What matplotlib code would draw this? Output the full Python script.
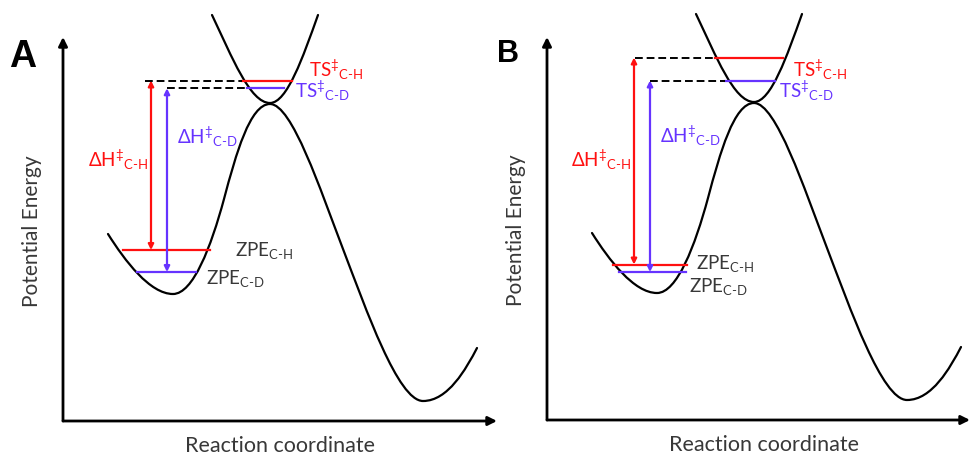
import matplotlib
matplotlib.use("Agg")
import matplotlib.pyplot as plt
from matplotlib.path import Path
from matplotlib.patches import PathPatch

plt.rcParams["font.family"] = ["Lato", "DejaVu Sans"]
plt.rcParams["mathtext.fontset"] = "custom"
plt.rcParams["mathtext.rm"] = "Lato"
plt.rcParams["mathtext.it"] = "Lato"

W, H = 972, 456
RED = "#FF1010"
BLUE = "#6633FF"
GREY = "#383838"

# potential-energy curves (Bezier anchors + handles), panel units, shared by A and B
lower_x = [45, 62, 87, 110, 130, 148, 161, 173, 187, 207, 229, 257, 280, 303, 335, 360, 385, 403, 414]
lower_y = [187, 160, 127, 127, 127, 174, 222, 267, 317, 317, 317, 232, 172, 112, 20, 20, 20, 52, 73]
upper_x = [149, 169, 187, 207, 224, 240, 255]
upper_y = [406, 364, 318, 318, 318, 364, 406]

# per panel values: A, B
panel_names = ["A", "B"]
panel_origin_px = [(63, 422), (547, 421)]
panel_size_px = [(434, 384), (423, 383)]
name_size = [27, 22]
name_pos_px = [(9, 67), (497, 62)]

ts_ch_y = [340.5, 362.5]
ts_ch_x = [(179, 229), (168, 236)]
ts_cd_y = [332.7, 339.5]
ts_cd_x = [(184, 221), (178, 228)]
zpe_ch_y = [171, 155.5]
zpe_ch_x = [(60, 147), (66, 140)]
zpe_cd_y = [149, 148]
zpe_cd_x = [(74, 133), (72, 139)]
arrow_ch_x = [88, 87]
arrow_cd_x = [104, 103]
dash_ch_start = [82, 88]
dash_cd_start = [104, 103]

# text anchors (left, baseline)
lbl_dh_ch = [(25, 255), (24, 254)]
lbl_dh_cd = [(114, 278), (113, 278)]
lbl_ts_ch = [(246, 345), (246, 344)]
lbl_ts_cd = [(232, 324), (232, 323)]
lbl_zpe_ch = [(172, 166), (149, 152)]
lbl_zpe_cd = [(143, 138), (142, 129)]

DH_CH = r"$\Delta$H$^{‡}{}_{\mathrm{C\text{-}H}}$"
DH_CD = r"$\Delta$H$^{‡}{}_{\mathrm{C\text{-}D}}$"
TS_CH = r"TS$^{‡}{}_{\mathrm{C\text{-}H}}$"
TS_CD = r"TS$^{‡}{}_{\mathrm{C\text{-}D}}$"
ZPE_CH = r"ZPE$_{\mathrm{C\text{-}H}}$"
ZPE_CD = r"ZPE$_{\mathrm{C\text{-}D}}$"


def bezier(xs, ys):
    codes = [Path.MOVETO] + [Path.CURVE4] * (len(xs) - 1)
    return Path(list(zip(xs, ys)), codes)


fig = plt.figure(figsize=(W / 100, H / 100), dpi=100)

for i, name in enumerate(panel_names):
    ox, oy = panel_origin_px[i]
    pw, ph = panel_size_px[i]
    ax = fig.add_axes([ox / W, (H - oy) / H, pw / W, ph / H])
    ax.set_xlim(0, pw)
    ax.set_ylim(0, ph)
    ax.axis("off")

    # axes with arrow heads
    for end in [(0, 1), (1, 0)]:
        ax.annotate("", xy=end, xytext=(0, 0), xycoords="axes fraction",
                    arrowprops=dict(arrowstyle="-|>", color="black", lw=2.0,
                                    mutation_scale=13, shrinkA=0, shrinkB=0),
                    annotation_clip=False)

    for xs, ys in [(lower_x, lower_y), (upper_x, upper_y)]:
        ax.add_patch(PathPatch(bezier(xs, ys), fill=False, lw=1.6,
                               edgecolor="black", clip_on=False,
                               capstyle="round"))

    # energy levels
    ax.plot(ts_ch_x[i], [ts_ch_y[i]] * 2, color=RED, lw=1.6, clip_on=False)
    ax.plot(ts_cd_x[i], [ts_cd_y[i]] * 2, color=BLUE, lw=1.6, clip_on=False)
    ax.plot(zpe_ch_x[i], [zpe_ch_y[i]] * 2, color=RED, lw=1.6)
    ax.plot(zpe_cd_x[i], [zpe_cd_y[i]] * 2, color=BLUE, lw=1.6)
    ax.plot([dash_ch_start[i], ts_ch_x[i][0]], [ts_ch_y[i]] * 2, color="black",
            lw=1.4, ls=(0, (4, 2)), clip_on=False)
    ax.plot([dash_cd_start[i], ts_cd_x[i][0]], [ts_cd_y[i]] * 2, color="black",
            lw=1.4, ls=(0, (4, 2)), clip_on=False)

    # barrier arrows
    for x, y0, y1, c in [(arrow_ch_x[i], zpe_ch_y[i], ts_ch_y[i], RED),
                         (arrow_cd_x[i], zpe_cd_y[i], ts_cd_y[i], BLUE)]:
        ax.annotate("", xy=(x, y1), xytext=(x, y0),
                    arrowprops=dict(arrowstyle="<|-|>", color=c, lw=1.6,
                                    mutation_scale=8, shrinkA=0, shrinkB=0),
                    annotation_clip=False)

    for (tx, ty), s, c in [(lbl_dh_ch[i], DH_CH, RED), (lbl_dh_cd[i], DH_CD, BLUE),
                           (lbl_ts_ch[i], TS_CH, RED), (lbl_ts_cd[i], TS_CD, BLUE),
                           (lbl_zpe_ch[i], ZPE_CH, GREY), (lbl_zpe_cd[i], ZPE_CD, GREY)]:
        ax.text(tx, ty, s, color=c, fontsize=13.5, ha="left", va="baseline",
                clip_on=False)

    ax.text(-31, 191, "Potential Energy", rotation=90, ha="center", va="center",
            fontsize=15, color=GREY, clip_on=False)
    ax.text(217, -24, "Reaction coordinate", ha="center", va="center",
            fontsize=15.5, color=GREY, clip_on=False)

    nx, ny = name_pos_px[i]
    fig.text(nx / W, (H - ny) / H, name, fontsize=name_size[i], fontweight="bold",
             family=["Liberation Sans", "DejaVu Sans"], va="baseline", ha="left")

fig.savefig("out.png", dpi=100)
